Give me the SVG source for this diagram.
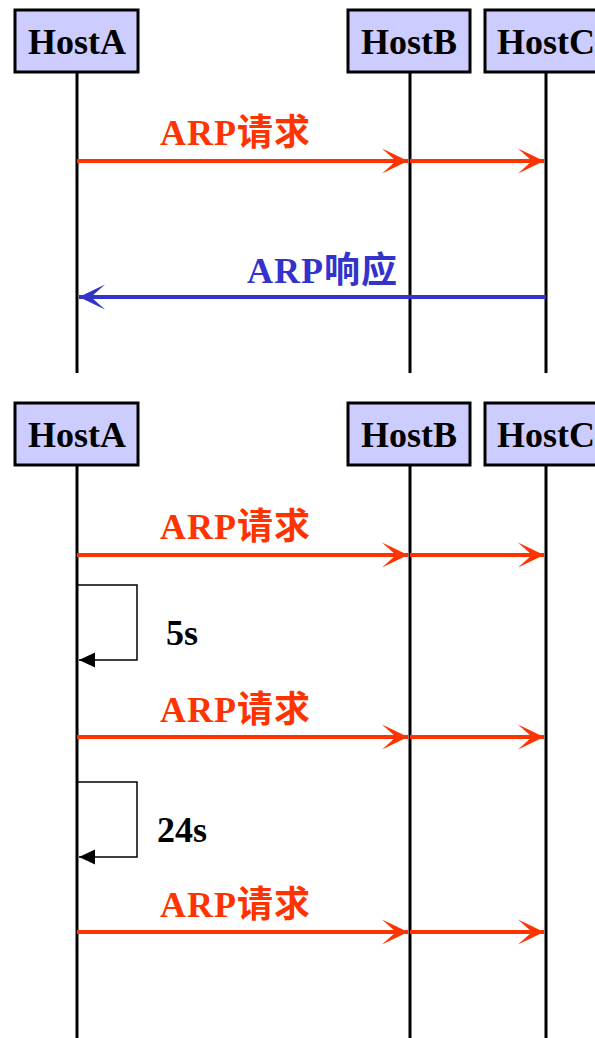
<svg xmlns="http://www.w3.org/2000/svg" width="595" height="1038" viewBox="0 0 595 1038">
<style>
.box{fill:#ccccff;stroke:#000;stroke-width:3}
.life{stroke:#000;stroke-width:3;fill:none}
.name{font-family:"Liberation Serif","Times New Roman",serif;font-weight:bold;font-size:36px;fill:#000;text-anchor:middle}
.req{stroke:#ff3300;stroke-width:4;fill:none}
.resp{stroke:#3333cc;stroke-width:4;fill:none}
.lbl{font-family:"Liberation Serif","Noto Sans CJK SC",serif;font-weight:bold;font-size:36px;letter-spacing:1px}
.lr{fill:#ff3300}
.lb{fill:#3333cc}
.loop{stroke:#000;stroke-width:1.5;fill:none}
.tm{font-family:"Liberation Serif","Times New Roman",serif;font-weight:bold;font-size:36px;fill:#000}
</style>
<defs>
<marker id="ar" markerUnits="userSpaceOnUse" markerWidth="28" markerHeight="28" viewBox="-27 -14 28 28" refX="0" refY="0" orient="auto">
<path d="M0,0 L-26,-12.5 L-12,0 L-26,12.5 Z" fill="#ff3300"/>
</marker>
<marker id="ab" markerUnits="userSpaceOnUse" markerWidth="28" markerHeight="28" viewBox="-27 -14 28 28" refX="0" refY="0" orient="auto">
<path d="M0,0 L-26,-12.5 L-12,0 L-26,12.5 Z" fill="#3333cc"/>
</marker>
<marker id="ak" markerUnits="userSpaceOnUse" markerWidth="18" markerHeight="18" viewBox="-17 -9 18 18" refX="0" refY="0" orient="auto">
<path d="M0,0 L-16,-7.5 L-16,7.5 Z" fill="#000"/>
</marker>
</defs>

<g id="lifelines">
<line class="life" x1="77" y1="72" x2="77" y2="373"/>
<line class="life" x1="410" y1="72" x2="410" y2="373"/>
<line class="life" x1="546" y1="72" x2="546" y2="373"/>
<line class="life" x1="77" y1="465" x2="77" y2="1038"/>
<line class="life" x1="410" y1="465" x2="410" y2="1038"/>
<line class="life" x1="546" y1="465" x2="546" y2="1038"/>
</g>

<g id="hostA1"><rect class="box" x="15" y="10" width="123" height="62"/><text class="name" x="77" y="54">HostA</text></g>
<g id="hostB1"><rect class="box" x="348" y="10" width="122" height="62"/><text class="name" x="409" y="54">HostB</text></g>
<g id="hostC1"><rect class="box" x="485" y="10" width="122" height="62"/><text class="name" x="546" y="54">HostC</text></g>

<g id="hostA2"><rect class="box" x="15" y="403" width="123" height="62"/><text class="name" x="77" y="447">HostA</text></g>
<g id="hostB2"><rect class="box" x="348" y="403" width="122" height="62"/><text class="name" x="409" y="447">HostB</text></g>
<g id="hostC2"><rect class="box" x="485" y="403" width="122" height="62"/><text class="name" x="546" y="447">HostC</text></g>

<g id="connectors">
<line class="req" x1="77" y1="161" x2="408" y2="161" marker-end="url(#ar)"/>
<line class="req" x1="410" y1="161" x2="544" y2="161" marker-end="url(#ar)"/>
<line class="resp" x1="546" y1="297" x2="79" y2="297" marker-end="url(#ab)"/>

<line class="req" x1="77" y1="555" x2="408" y2="555" marker-end="url(#ar)"/>
<line class="req" x1="410" y1="555" x2="544" y2="555" marker-end="url(#ar)"/>
<path class="loop" d="M77,585 H137 V660 H79" marker-end="url(#ak)"/>
<line class="req" x1="77" y1="737" x2="408" y2="737" marker-end="url(#ar)"/>
<line class="req" x1="410" y1="737" x2="544" y2="737" marker-end="url(#ar)"/>
<path class="loop" d="M77,782 H137 V857 H79" marker-end="url(#ak)"/>
<line class="req" x1="77" y1="932" x2="408" y2="932" marker-end="url(#ar)"/>
<line class="req" x1="410" y1="932" x2="544" y2="932" marker-end="url(#ar)"/>
</g>

<g id="labels">
<text class="lbl lr" x="160" y="145">ARP请求</text>
<text class="lbl lb" x="247" y="283">ARP响应</text>
<text class="lbl lr" x="160" y="539">ARP请求</text>
<text class="tm" x="166" y="645">5s</text>
<text class="lbl lr" x="160" y="722">ARP请求</text>
<text class="tm" x="157" y="842">24s</text>
<text class="lbl lr" x="160" y="917">ARP请求</text>
</g>
</svg>
